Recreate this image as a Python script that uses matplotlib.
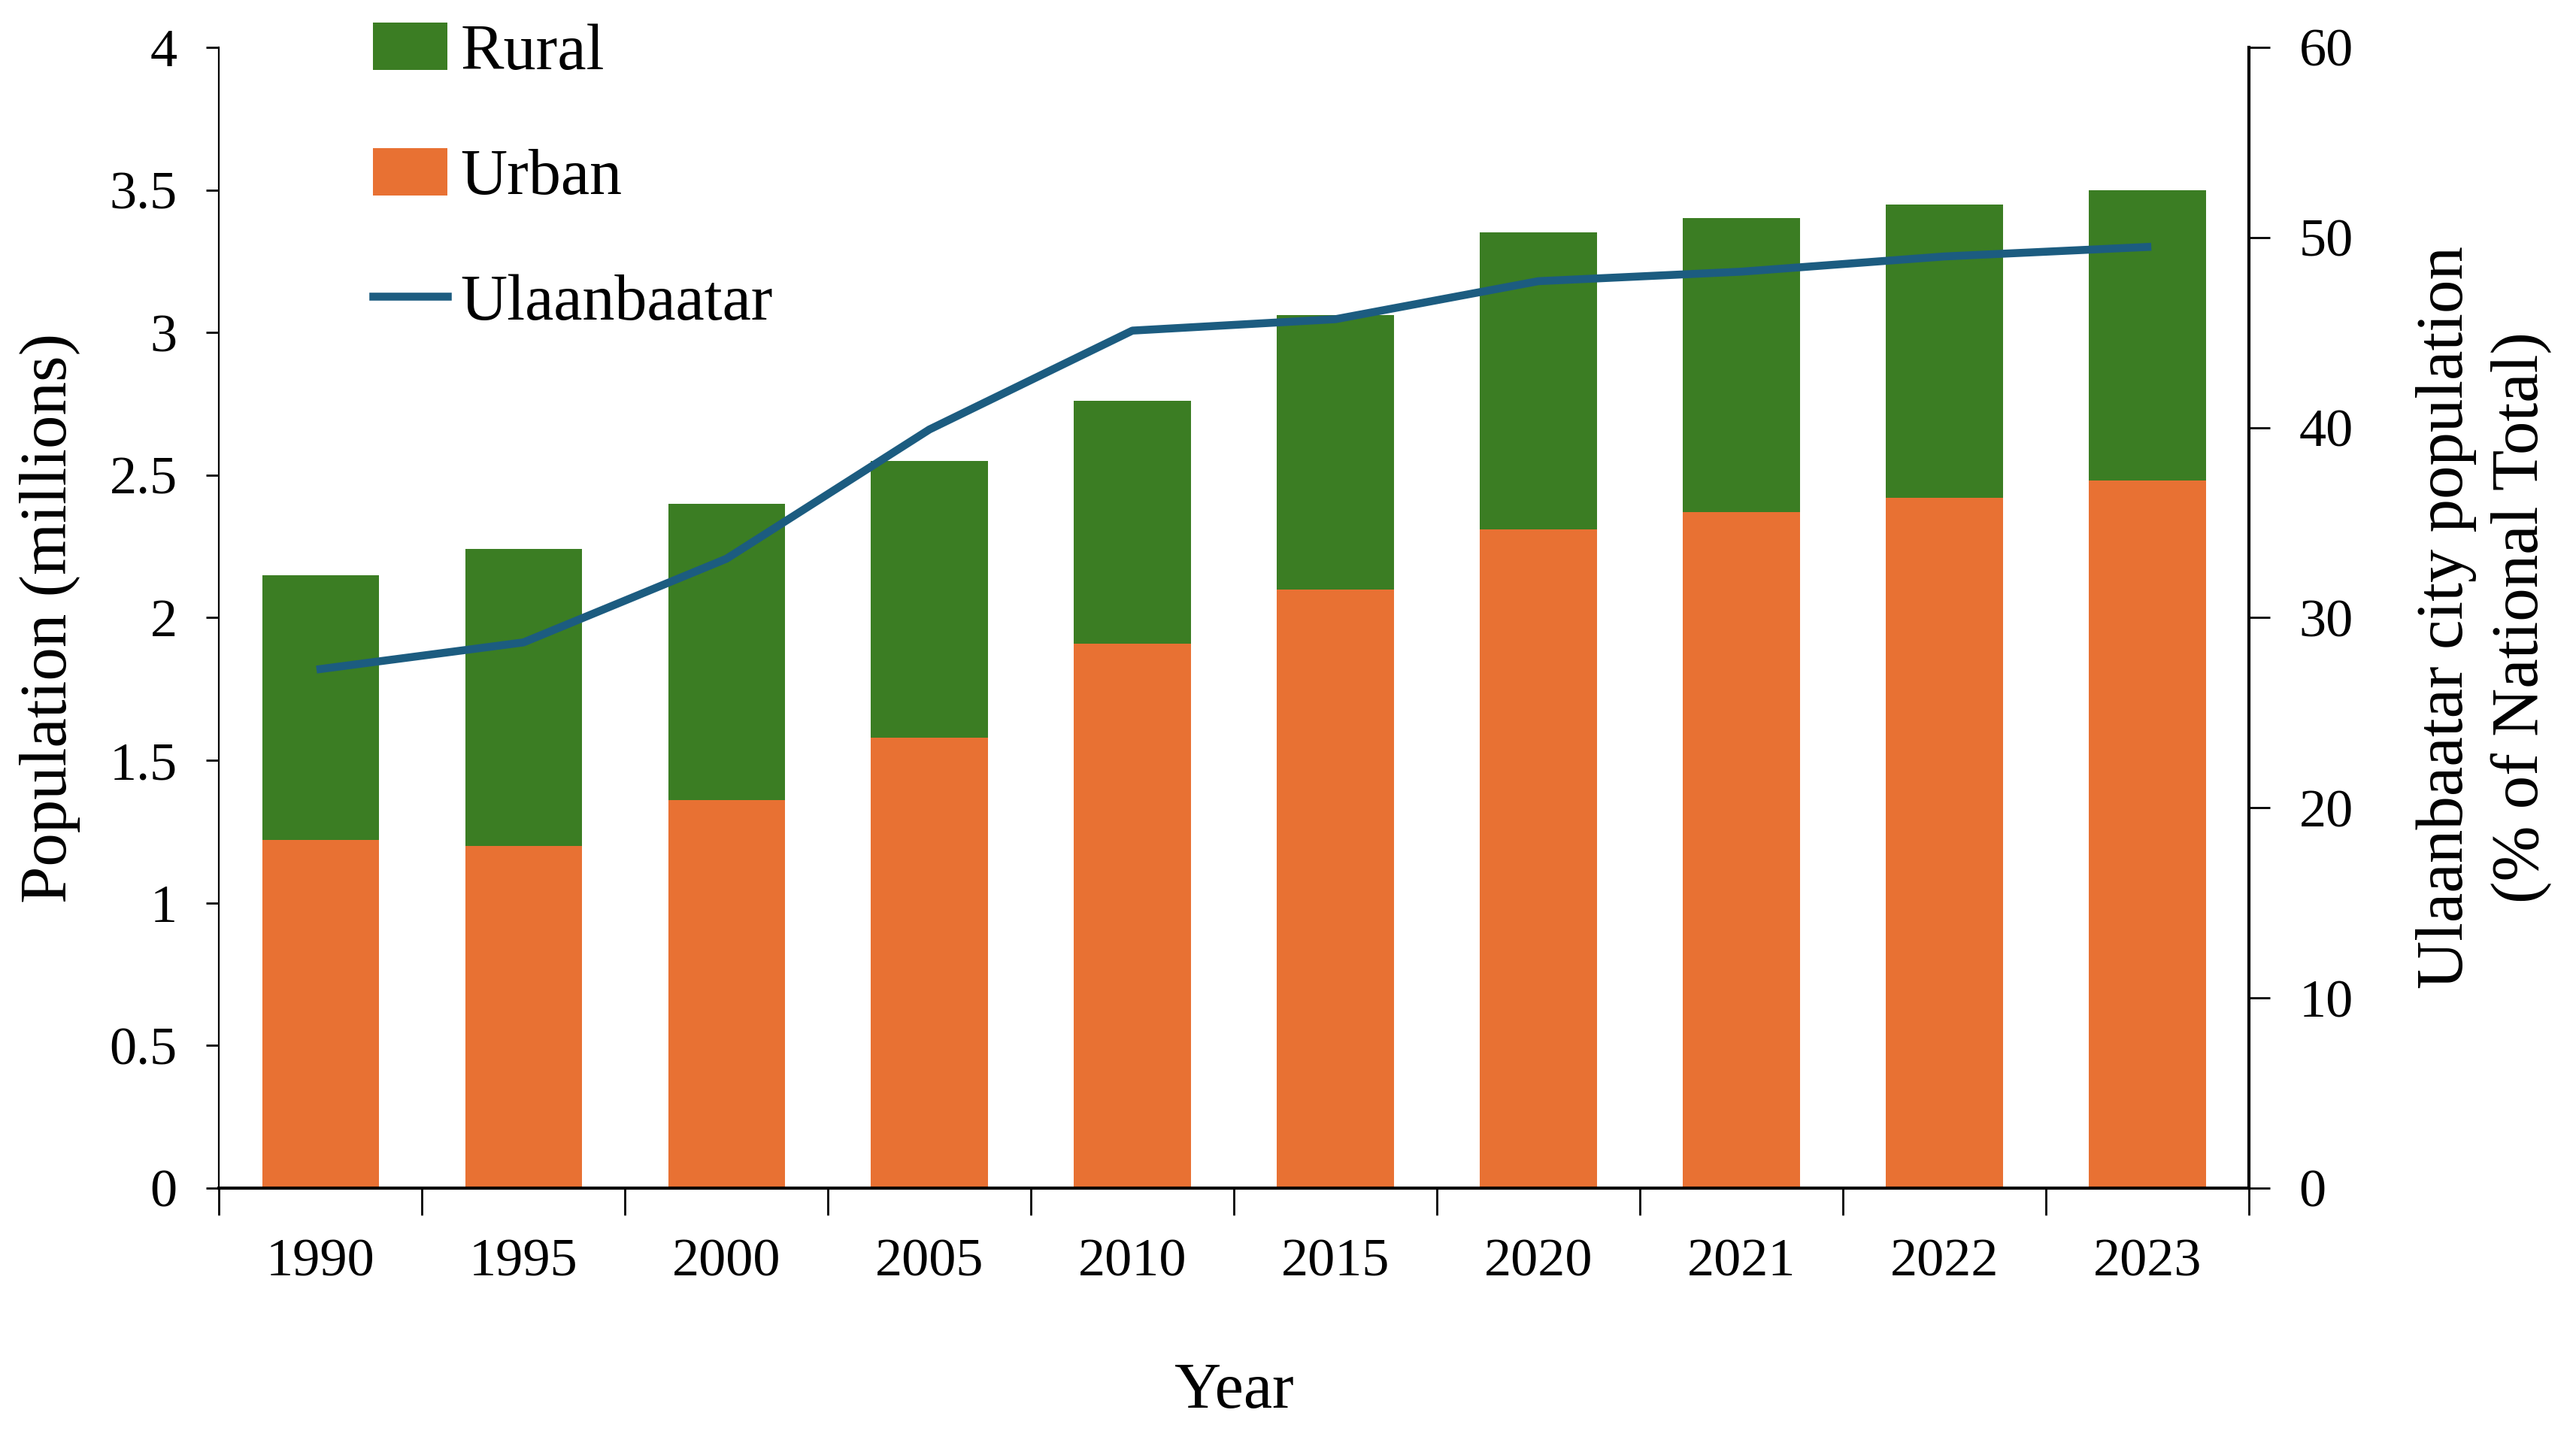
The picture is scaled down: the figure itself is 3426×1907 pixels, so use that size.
import numpy as np
import matplotlib.pyplot as plt

years = ['1990', '1995', '2000', '2005', '2010', '2015', '2020', '2021', '2022', '2023']
urban = [1.22, 1.20, 1.36, 1.58, 1.91, 2.10, 2.31, 2.37, 2.42, 2.48]
rural = [0.93, 1.04, 1.04, 0.97, 0.85, 0.96, 1.04, 1.03, 1.03, 1.02]
ub_share = [27.3, 28.7, 33.1, 39.9, 45.1, 45.7, 47.7, 48.2, 49.0, 49.5]

orange = '#E87133'
green = '#3B7D23'
blue = '#1C5C80'

plt.rcParams['font.family'] = ['Liberation Serif', 'DejaVu Serif']

fig = plt.figure(figsize=(17.13, 9.535), dpi=200)
ax = fig.add_axes([0.085, 0.1715, 0.788, 0.7955])
x = np.arange(len(years))

ax.bar(x, urban, width=0.575, color=orange, label='Urban', zorder=2)
ax.bar(x, rural, width=0.575, bottom=urban, color=green, label='Rural', zorder=2)
ax.set_xlim(-0.5, len(years) - 0.5)
ax.set_ylim(0, 4)
ax.set_yticks([0, 0.5, 1, 1.5, 2, 2.5, 3, 3.5, 4])
ax.set_yticklabels(['0', '0.5', '1', '1.5', '2', '2.5', '3', '3.5', '4'])
ax.set_xticks(x)
ax.set_xticklabels(years)
ax.set_xticks(np.arange(-0.5, len(years)), minor=True)
ax.tick_params(axis='x', which='major', length=0, pad=24, labelsize=26)
ax.tick_params(axis='x', which='minor', length=13, width=1, direction='out')
ax.tick_params(axis='y', length=6, width=1, labelsize=26, pad=14)
ax.spines['top'].set_visible(False)
ax.spines['right'].set_visible(False)
ax.spines['bottom'].set_linewidth(1.5)
ax.set_ylabel('Population (millions)', fontsize=32, labelpad=14)
ax.set_xlabel('Year', fontsize=31, labelpad=36)

ax2 = ax.twinx()
ax2.plot(x, ub_share, color=blue, lw=3.8, label='Ulaanbaatar', zorder=3)
ax2.set_ylim(0, 60)
ax2.set_yticks(range(0, 61, 10))
ax2.tick_params(axis='y', length=10, width=1, labelsize=26, pad=14)
for s in ['top', 'left', 'bottom']:
    ax2.spines[s].set_visible(False)
ax2.spines['right'].set_linewidth(1.5)
ax2.set_ylabel('Ulaanbaatar city population\n(% of National Total)', fontsize=32,
               labelpad=30, linespacing=1.3)

h1, l1 = ax.get_legend_handles_labels()
h2, l2 = ax2.get_legend_handles_labels()
handles = [h1[1], h1[0], h2[0]]
labels = [l1[1], l1[0], l2[0]]
ax.legend(handles, labels, loc='upper left', bbox_to_anchor=(0.06, 1.05),
          frameon=False, fontsize=31, handlelength=1.15, handleheight=0.75,
          handletextpad=0.2, labelspacing=1.0, borderpad=0)

fig.savefig('out.png', dpi=200)
